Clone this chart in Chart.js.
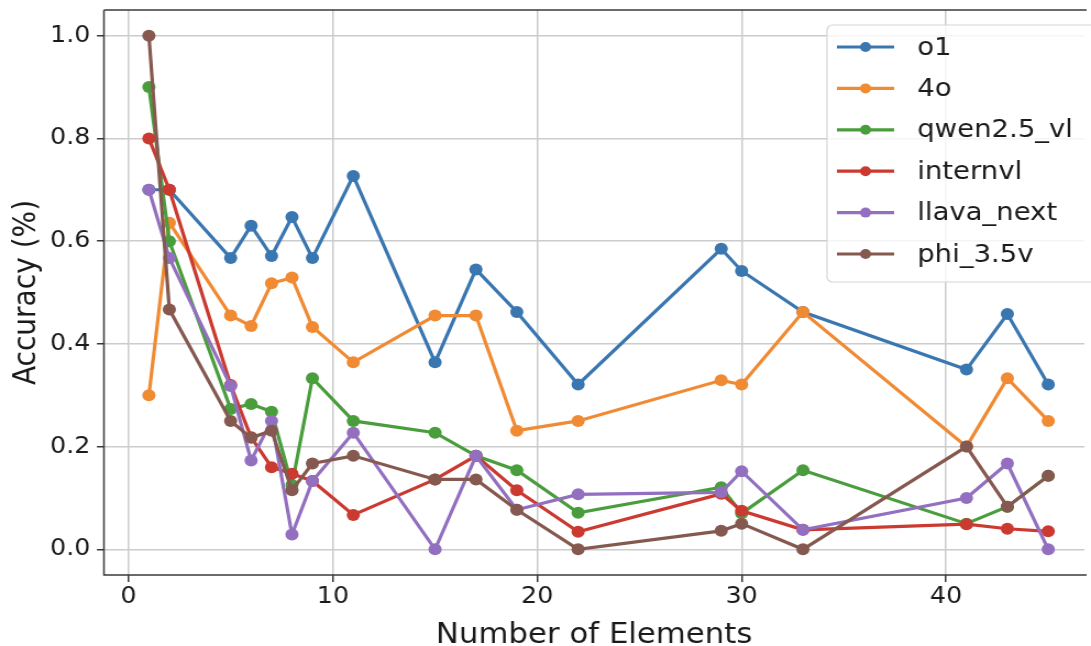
<!DOCTYPE html>
<html><head><meta charset="utf-8">
<script src="https://cdn.jsdelivr.net/npm/chart.js@4.4.0/dist/chart.umd.min.js"></script>
<style>
html,body{margin:0;padding:0;background:#fff;overflow:hidden;}
#wrap{width:992px;height:646px;transform:scaleX(1.0998);transform-origin:0 0;}
canvas{display:block;}
</style></head><body>
<div id="wrap"><canvas id="c" width="992" height="646"></canvas></div>
<script>
// ---- data ----
const elements = [1, 2, 5, 6, 7, 8, 9, 11, 15, 17, 19, 22, 29, 30, 33, 41, 43, 45];
const o1       = [0.700, 0.700, 0.567, 0.630, 0.571, 0.647, 0.567, 0.727, 0.364, 0.545, 0.462, 0.321, 0.585, 0.542, 0.462, 0.350, 0.458, 0.321];
const gpt4o    = [0.300, 0.636, 0.455, 0.435, 0.518, 0.529, 0.433, 0.364, 0.455, 0.455, 0.231, 0.250, 0.329, 0.321, 0.462, 0.200, 0.333, 0.250];
const qwen     = [0.900, 0.600, 0.273, 0.283, 0.268, 0.125, 0.333, 0.250, 0.227, 0.182, 0.154, 0.071, 0.121, 0.070, 0.154, 0.050, 0.083, 0.143];
const internvl = [0.800, 0.700, 0.320, 0.218, 0.160, 0.147, 0.133, 0.067, 0.136, 0.182, 0.115, 0.034, 0.108, 0.075, 0.038, 0.049, 0.040, 0.035];
const llava    = [0.700, 0.567, 0.318, 0.173, 0.250, 0.029, 0.133, 0.227, 0.000, 0.182, 0.077, 0.107, 0.111, 0.152, 0.038, 0.100, 0.167, 0.000];
const phi      = [1.000, 0.467, 0.250, 0.217, 0.231, 0.115, 0.167, 0.182, 0.136, 0.136, 0.077, 0.000, 0.036, 0.050, 0.000, 0.200, 0.083, 0.143];
const seriesNames = ['o1', '4o', 'qwen2.5_vl', 'internvl', 'llava_next', 'phi_3.5v'];
const seriesValues = [o1, gpt4o, qwen, internvl, llava, phi];
const seriesColors = ['#3a76b0', '#f08a33', '#4a9d3d', '#cb3a30', '#9370bf', '#85594f'];
const xTicks = [0, 10, 20, 30, 40];
const yTicks = [0, 0.2, 0.4, 0.6, 0.8, 1.0];
const yTickLabels = ['0.0', '0.2', '0.4', '0.6', '0.8', '1.0'];
const xTitle = 'Number of Elements';
const yTitle = 'Accuracy (%)';

const FONT = "'DejaVu Sans', sans-serif";

const datasets = seriesNames.map((name, k) => ({
  label: name,
  data: elements.map((x, i) => ({x: x, y: seriesValues[k][i]})),
  borderColor: seriesColors[k],
  backgroundColor: seriesColors[k],
  pointBackgroundColor: seriesColors[k],
  pointBorderWidth: 0,
  pointRadius: 6,
  borderWidth: 3.2,
  tension: 0,
  fill: false,
  order: seriesNames.length - k
}));

const topSpine = {
  id: 'topSpine',
  afterDatasetsDraw(chart) {
    const {ctx, chartArea: a} = chart;
    ctx.save();
    ctx.strokeStyle = '#3a3a3a';
    ctx.lineWidth = 1.5;
    ctx.beginPath();
    ctx.moveTo(a.left, a.top);
    ctx.lineTo(a.right + 2, a.top);
    ctx.stroke();
    ctx.beginPath();
    ctx.moveTo(a.left, a.top);
    ctx.lineTo(a.left, a.bottom);
    ctx.lineTo(a.right + 2, a.bottom);
    ctx.stroke();
    ctx.restore();
  }
};

const floatLegend = {
  id: 'floatLegend',
  afterDraw(chart) {
    const ctx = chart.ctx;
    const bx = 752, by = 25, bw = 245, bh = 257, r = 5;
    ctx.save();
    ctx.beginPath();
    ctx.moveTo(bx + r, by);
    ctx.lineTo(bx + bw - r, by);
    ctx.arcTo(bx + bw, by, bx + bw, by + r, r);
    ctx.lineTo(bx + bw, by + bh - r);
    ctx.arcTo(bx + bw, by + bh, bx + bw - r, by + bh, r);
    ctx.lineTo(bx + r, by + bh);
    ctx.arcTo(bx, by + bh, bx, by + bh - r, r);
    ctx.lineTo(bx, by + r);
    ctx.arcTo(bx, by, bx + r, by, r);
    ctx.closePath();
    ctx.fillStyle = 'rgba(255,255,255,0.8)';
    ctx.fill();
    ctx.strokeStyle = '#d5d5d5';
    ctx.lineWidth = 1.2;
    ctx.stroke();
    chart.data.datasets.forEach((ds, i) => {
      const y = 47 + i * 41.4;
      ctx.strokeStyle = ds.borderColor;
      ctx.lineWidth = 3.2;
      ctx.beginPath();
      ctx.moveTo(761, y);
      ctx.lineTo(813, y);
      ctx.stroke();
      ctx.fillStyle = ds.borderColor;
      ctx.beginPath();
      ctx.arc(787, y, 5, 0, Math.PI * 2);
      ctx.fill();
      ctx.fillStyle = '#1a1a1a';
      ctx.font = "25px " + FONT;
      ctx.textBaseline = 'middle';
      ctx.textAlign = 'left';
      ctx.fillText(ds.label, 834, y + 1);
    });
    ctx.restore();
  }
};

new Chart(document.getElementById('c'), {
  type: 'line',
  data: {datasets: datasets},
  options: {
    responsive: false,
    animation: false,
    layout: {padding: {left: 0, right: 0, top: 10, bottom: 0}},
    plugins: {legend: {display: false}, tooltip: {enabled: false}},
    scales: {
      x: {
        type: 'linear',
        min: -1.2,
        max: 46.77,
        afterBuildTicks: (s) => { s.ticks = xTicks.map(v => ({value: v})); },
        afterFit: (s) => { s.height = 71; s.paddingLeft = 0; s.paddingRight = 0; s.paddingTop = 0; s.paddingBottom = 0; },
        ticks: {
          callback: (v) => String(v),
          font: {family: FONT, size: 23, lineHeight: 1.2},
          color: '#1a1a1a',
          padding: 1,
          maxRotation: 0,
          autoSkip: false
        },
        grid: {color: '#cccccc', lineWidth: 1.5, drawTicks: true, tickLength: 7, tickColor: '#3a3a3a', tickWidth: 1.5},
        border: {display: false},
        title: {display: true, text: xTitle, color: '#1a1a1a',
                font: {family: FONT, size: 28, lineHeight: 0.72}, padding: {top: 0, bottom: 0}}
      },
      y: {
        type: 'linear',
        min: -0.05,
        max: 1.05,
        afterBuildTicks: (s) => { s.ticks = yTicks.map(v => ({value: v})); },
        afterFit: (s) => { s.width = 94.5; s.paddingTop = 0; s.paddingBottom = 0; s.paddingLeft = 0; s.paddingRight = 0; },
        ticks: {
          callback: (v, i) => yTickLabels[i],
          font: {family: FONT, size: 23, lineHeight: 1.2},
          color: '#1a1a1a',
          padding: 6,
          autoSkip: false
        },
        grid: {color: '#cccccc', lineWidth: 1.5, drawTicks: true, tickLength: 6.4, tickColor: '#3a3a3a', tickWidth: 1.5},
        border: {display: false},
        title: {display: true, text: yTitle, color: '#1a1a1a',
                font: {family: FONT, size: 28, lineHeight: 1.2}, padding: {top: 7.7, bottom: 0}}
      }
    }
  },
  plugins: [topSpine, floatLegend]
});
</script>
</body></html>
